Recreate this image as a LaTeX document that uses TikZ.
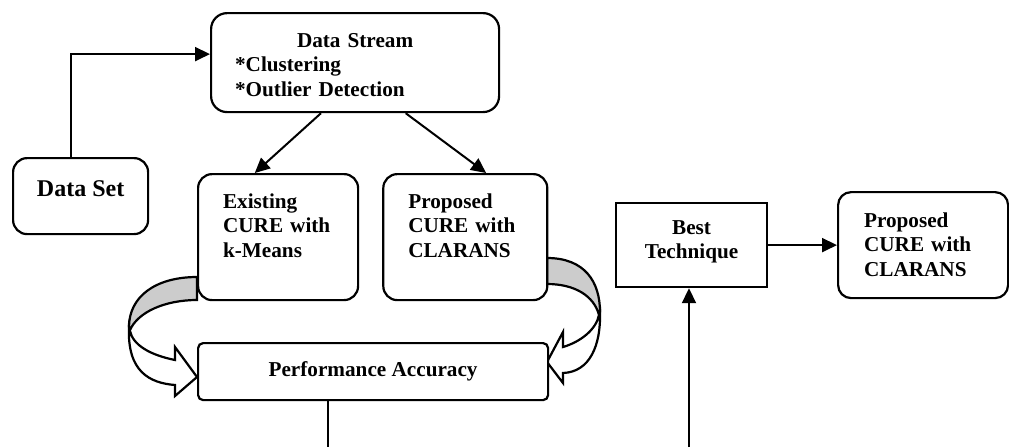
\documentclass[tikz,border=0pt]{standalone}
\usepackage{fontspec}
\setmainfont{Liberation Serif}
\usetikzlibrary{arrows.meta,positioning}

\begin{document}
\begin{tikzpicture}[->,>={Triangle[length=7.5pt,width=7pt]},x=0.5pt,y=-0.5pt,
	line width=1pt,font=\bfseries\fontsize{10.6}{12.25}\selectfont]
	\tikzstyle{rbox}=[draw=black,fill=white,rounded corners=7pt,line width=1.1pt,
	inner ysep=0pt,text height=17pt,align=left]
	\tikzstyle{band}=[-,line width=1.1pt]
	\useasboundingbox (0,0) rectangle (1009,447);
	
	\filldraw[band,fill=gray!40] (197,277) .. controls (155,277) and (129,297) .. (129,327)
	-- (130,330) .. controls (138,312) and (165,300) .. (197,300) -- cycle;
	\filldraw[band,fill=white] (129,327) .. controls (127,372) and (150,383) .. (175,385)
	-- (175,396) -- (197,377) -- (175,347) -- (175,360)
	.. controls (150,355) and (133,345) .. (130,331) -- cycle;
	\filldraw[band,fill=gray!40] (547,258) .. controls (585,258) and (600,282) .. (600,312)
	-- (599,315) .. controls (594,296) and (575,284) .. (547,284) -- cycle;
	\filldraw[band,fill=white] (600,312) .. controls (601,345) and (590,372) .. (563,373)
	-- (563,383) -- (547,362) -- (563,332) -- (563,347)
	.. controls (580,342) and (596,330) .. (599,315) -- cycle;
	
	\node[rbox,rounded corners=8pt,text width=120pt,inner xsep=12pt,text depth=32.5pt] (ds)
	at (210,12) [anchor=north west] {{\centering Data Stream\par}{*}Clustering\\{*}Outlier Detection};
	\node[rbox,font=\bfseries\fontsize{12}{14}\selectfont,minimum width=67.5pt,align=center,
	text height=19pt,text depth=19pt] (set) at (12,157) [anchor=north west] {Data Set};
	\node[rbox,text width=55pt,inner xsep=12.5pt,text depth=46pt] (exist)
	at (197,173) [anchor=north west] {Existing\\CURE with\\k-Means};
	\node[rbox,text width=57pt,inner xsep=12.5pt,text depth=46pt] (prop)
	[right=11.5pt of exist] {Proposed\\CURE with\\CLARANS};
	\node[draw,fill=white,rounded corners=2.5pt,minimum width=175pt,minimum height=28.5pt,
	line width=1.1pt] (pa) at (197,342) [anchor=north west] {Performance Accuracy};
	\node[draw,fill=white,line width=1.1pt,text width=67.5pt,inner xsep=4pt,align=center,
	inner ysep=0pt,text height=15.5pt,text depth=26.5pt] (best)
	at (615,202) [anchor=north west] {Best\\Technique};
	\node[rbox,rounded corners=6.5pt,text width=59pt,inner xsep=13pt,text height=17.5pt,
	text depth=35.5pt] (prop2) [right=34.4pt of best] {Proposed\\CURE with\\CLARANS};
	\coordinate (paout) at (328,447);
	\coordinate (bestin) at (689,447);
	
	\draw ([xshift=-4.75pt]set.north) |- ([yshift=4.25pt]ds.west);
	\path
	(ds.-124.5) edge (exist.110)
	(ds.-45.9) edge (prop.72.4)
	(best) edge (prop2)
	(bestin) edge (bestin |- best.south)
	;
	\draw[-] (paout |- pa.south) -- (paout);
\end{tikzpicture}
\end{document}
